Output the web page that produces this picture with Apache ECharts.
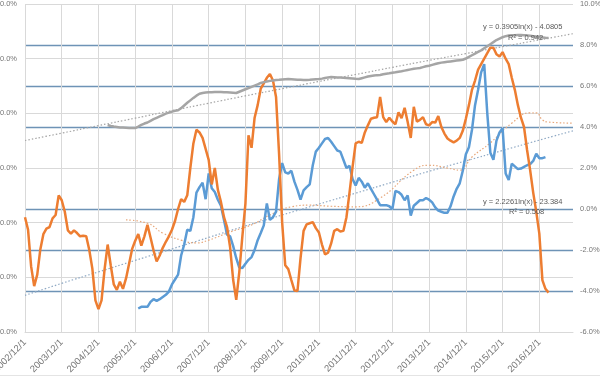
<!DOCTYPE html>
<html>
<head>
<meta charset="utf-8">
<script src="https://cdn.jsdelivr.net/npm/echarts@6/dist/echarts.min.js"></script>
<style>
html,body{margin:0;padding:0;background:#fff;}
#c{width:600px;height:383px;}
</style>
</head>
<body>
<div id="c"></div>
<script>
// ---- data ----
// monthly categories from 2002/12 to 2017/11
const startYear = 2002, startMonth = 12, monthCount = 180;
const categories = [];
for (let i = 0; i < monthCount; i++) {
  const m0 = startMonth - 1 + i;
  categories.push((startYear + Math.floor(m0 / 12)) + '/' + (m0 % 12 + 1) + '/1');
}
// left axis (%)
const leftTicks = {min: 0, max: 60, step: 10};
// right axis (%)
const rightTicks = {min: -6, max: 10, step: 2};

// orange series, left axis, starts at month 0
const orangeStart = 0;
const orangeValues = [
21.0, 18.7, 12.0, 8.4, 10.5, 15.1, 17.9, 18.9, 19.2, 20.8,
21.4, 25.0, 24.1, 22.0, 18.6, 18.0, 18.6, 18.1, 17.5, 17.6,
17.5, 15.0, 11.6, 5.8, 4.2, 5.8, 11.5, 16.0, 12.2, 8.7,
7.7, 9.2, 7.9, 9.8, 12.5, 15.2, 16.7, 17.9, 15.8, 17.5,
19.6, 17.3, 14.9, 12.9, 14.0, 15.4, 16.5, 17.5, 18.7, 20.3,
22.5, 24.3, 23.8, 25.0, 30.0, 34.5, 37.0, 36.5, 35.5, 33.5,
31.5, 27.0, 30.0, 26.0, 23.8, 21.0, 19.2, 15.5, 9.5, 5.9,
11.0, 17.5, 23.5, 36.0, 33.7, 39.2, 41.5, 44.5, 45.5, 46.5,
47.2, 46.0, 43.0, 32.5, 20.0, 12.2, 11.5, 9.5, 7.6, 7.5,
13.5, 18.5, 19.7, 19.9, 20.1, 19.0, 18.2, 16.0, 14.2, 14.5,
16.2, 18.5, 18.8, 18.4, 18.5, 21.0, 25.5, 30.2, 34.5, 34.8,
34.6, 36.5, 37.8, 39.0, 39.2, 39.3, 43.0, 39.3, 38.4, 39.2,
38.5, 38.0, 40.2, 39.1, 41.0, 38.4, 35.5, 41.2, 38.5, 38.8,
39.3, 38.0, 37.8, 38.4, 38.3, 39.5, 37.5, 36.3, 35.4, 35.0,
34.7, 35.0, 35.5, 36.8, 39.0, 41.5, 44.3, 46.0, 48.0, 49.0,
50.0, 51.0, 52.0, 52.0, 50.8, 50.4, 51.2, 50.0, 49.0, 46.5,
44.3, 41.5, 39.2, 37.5, 33.3, 29.6, 25.5, 22.0, 18.0, 9.5,
7.9, 7.2
];

// blue series, left axis, starts at month 37 (2006/1)
const blueStart = 37;
const blueValues = [
4.3, 4.6, 4.6, 4.6, 5.5, 6.0, 5.7, 6.0, 6.4, 6.8,
7.4, 8.7, 9.6, 10.5, 14.0, 16.0, 18.7, 18.5, 21.0, 25.5,
26.5, 27.3, 24.3, 29.0, 26.3, 25.6, 24.2, 23.1, 20.5, 17.8,
17.5, 15.7, 13.5, 11.8, 11.7, 12.5, 13.2, 13.7, 15.0, 16.8,
18.1, 19.5, 23.5, 20.5, 21.0, 22.0, 28.0, 30.9, 29.2, 29.0,
29.5, 27.5, 26.0, 24.2, 25.9, 26.5, 27.0, 30.5, 33.0, 33.7,
34.5, 35.3, 35.5, 34.8, 34.0, 33.2, 33.0, 31.5, 30.0, 30.4,
28.0, 26.8, 28.2, 27.5, 26.4, 27.2, 26.2, 25.2, 24.2, 23.2,
23.2, 23.2, 23.0, 22.5, 25.8, 25.6, 25.1, 24.1, 25.0, 21.3,
23.1, 23.6, 24.1, 24.1, 24.5, 24.2, 23.7, 22.8, 22.2, 22.0,
21.8, 21.8, 23.0, 24.8, 26.2, 27.2, 29.5, 32.5, 33.8, 37.0,
41.5, 44.3, 47.5, 49.0, 40.0, 32.8, 31.5, 35.0, 36.5, 37.3,
29.0, 27.8, 30.8, 30.3, 29.8, 29.9, 30.2, 30.5, 30.7, 31.3,
32.6, 31.8, 31.8, 32.0
];

// gray series, right axis, starts at month 27 (2005/3)
const grayStart = 27;
const grayValues = [
4.10, 4.05, 4.02, 4.00, 3.98, 3.97, 3.96, 3.95, 3.95, 3.95,
4.02, 4.10, 4.17, 4.22, 4.30, 4.38, 4.45, 4.52, 4.58, 4.65,
4.70, 4.75, 4.79, 4.82, 4.92, 5.05, 5.18, 5.30, 5.42, 5.53,
5.62, 5.66, 5.68, 5.69, 5.70, 5.71, 5.71, 5.71, 5.70, 5.69,
5.68, 5.67, 5.66, 5.72, 5.78, 5.84, 5.90, 5.96, 6.02, 6.08,
6.15, 6.19, 6.22, 6.25, 6.27, 6.29, 6.30, 6.32, 6.33, 6.34,
6.33, 6.32, 6.31, 6.30, 6.29, 6.29, 6.30, 6.32, 6.33, 6.34,
6.36, 6.39, 6.42, 6.44, 6.43, 6.42, 6.41, 6.40, 6.39, 6.38,
6.37, 6.35, 6.34, 6.38, 6.42, 6.46, 6.49, 6.51, 6.53, 6.54,
6.57, 6.60, 6.62, 6.65, 6.67, 6.70, 6.72, 6.75, 6.78, 6.81,
6.84, 6.86, 6.88, 6.92, 6.96, 6.99, 7.03, 7.07, 7.11, 7.14,
7.16, 7.18, 7.20, 7.22, 7.24, 7.26, 7.28, 7.34, 7.42, 7.50,
7.58, 7.66, 7.74, 7.84, 7.94, 8.04, 8.14, 8.24, 8.31, 8.38,
8.43, 8.46, 8.47, 8.48, 8.49, 8.49, 8.48, 8.47, 8.45, 8.43,
8.41, 8.39, 8.37, 8.35, 8.34
];

// trendline of gray (right axis), points read at month index
const grayTrendPoints = [[0,3.34],[12,3.70],[24,4.07],[36,4.43],[48,4.80],[60,5.16],[72,5.52],[84,5.87],[96,6.22],[108,6.56],[120,6.91],[132,7.25],[144,7.58],[156,7.92],[168,8.25],[179,8.55]];
// trendline of blue (left axis)
const blueTrendPoints = [[0,6.7],[12,8.9],[24,11.0],[36,13.1],[48,15.2],[60,17.3],[72,19.4],[84,21.4],[96,23.4],[108,25.4],[120,27.4],[132,29.4],[144,31.3],[156,33.2],[168,35.1],[179,36.8]];
// moving-average curve of orange (left axis)
const orangeAvgPoints = [[33,20.5],[40,19.9],[45,18.1],[51,16.8],[56,16.3],[60,16.8],[67,18.3],[74,19.6],[80,21.4],[87,22.9],[93,23.2],[100,23.0],[108,22.9],[116,24.5],[127,29.6],[132,30.5],[138,30.0],[142,29.6],[146,32.0],[152,34.6],[159,38.2],[165,40.1],[167,40.1],[169,38.8],[171,38.4],[179,38.2]];

const trendText1 = ['y = 0.3905ln(x) - 4.0805', 'R² = 0.942'];
const trendText2 = ['y = 2.2261ln(x) - 23.384', 'R² = 0.508'];

// ---- chart ----
const toPairs = (start, arr) => arr.map((v, k) => [start + k, v]);
const FONT = '"Liberation Sans", Arial, sans-serif';
const LBL = '#767676';
const LIGHT = '#d9d9d9';
const DARK = '#6e93b6';
const T = 'rgba(0,0,0,0)';

const chart = echarts.init(document.getElementById('c'), null, {renderer: 'canvas'});
chart.setOption({
  animation: false,
  backgroundColor: '#fff',
  grid: {left: 25, right: 27, top: 4, bottom: 51, containLabel: false, outerBoundsMode: 'none'},
  xAxis: {
    type: 'category', data: categories, boundaryGap: false,
    axisLine: {show: true, lineStyle: {color: LIGHT}},
    axisTick: {show: false},
    axisLabel: {
      interval: (i) => i % 12 === 0, rotate: 45, margin: 9,
      color: LBL, fontSize: 9.5, fontFamily: FONT
    },
    splitLine: {show: true, interval: (i) => i % 12 === 0, lineStyle: {color: LIGHT, width: 1}}
  },
  yAxis: [
    {
      type: 'value', min: leftTicks.min, max: leftTicks.max, interval: leftTicks.step,
      axisLine: {show: false}, axisTick: {show: false},
      axisLabel: {margin: 8, color: LBL, fontSize: 7.5, fontFamily: FONT, formatter: (v) => v.toFixed(1) + '%'},
      splitLine: {show: true, lineStyle: {color: LIGHT, width: 1}}
    },
    {
      type: 'value', min: rightTicks.min, max: rightTicks.max, interval: rightTicks.step, position: 'right',
      axisLine: {show: false}, axisTick: {show: false},
      axisLabel: {margin: 7, color: LBL, fontSize: 7.5, fontFamily: FONT, formatter: (v) => v.toFixed(1) + '%'},
      splitLine: {show: true, lineStyle: {color: [T, DARK, DARK, DARK, T, DARK, DARK, DARK, T], width: 1.3}}
    }
  ],
  series: [
    {type: 'line', yAxisIndex: 1, data: grayTrendPoints, showSymbol: false, smooth: true, z: 3,
     lineStyle: {color: '#a5a5a5', width: 1.2, type: [1.5, 2]}},
    {type: 'line', yAxisIndex: 0, data: blueTrendPoints, showSymbol: false, smooth: true, z: 3,
     lineStyle: {color: '#8fa9c4', width: 1.2, type: [1.5, 2]}},
    {type: 'line', yAxisIndex: 0, data: orangeAvgPoints, showSymbol: false, smooth: true, z: 3,
     lineStyle: {color: '#e7a77a', width: 1.2, type: [1.5, 2]}},
    {type: 'line', yAxisIndex: 0, data: toPairs(blueStart, blueValues), showSymbol: false, z: 4,
     lineStyle: {color: '#5b9bd5', width: 2.5}},
    {type: 'line', yAxisIndex: 0, data: toPairs(orangeStart, orangeValues), showSymbol: false, z: 5,
     lineStyle: {color: '#ed7d31', width: 2.5}},
    {type: 'line', yAxisIndex: 1, data: toPairs(grayStart, grayValues), showSymbol: false, z: 6,
     lineStyle: {color: '#a5a5a5', width: 2.5}}
  ],
  graphic: [
    {type: 'text', left: 483, top: 23, z: 10, style: {text: trendText1[0], fill: '#595959', font: '7.5px ' + FONT}},
    {type: 'text', left: 508, top: 34, z: 10, style: {text: trendText1[1], fill: '#595959', font: '7.5px ' + FONT}},
    {type: 'text', left: 483, top: 198, z: 10, style: {text: trendText2[0], fill: '#595959', font: '7.5px ' + FONT}},
    {type: 'text', left: 509, top: 208, z: 10, style: {text: trendText2[1], fill: '#595959', font: '7.5px ' + FONT}},
    {type: 'line', z: 0, shape: {x1: 0, y1: 375.5, x2: 600, y2: 375.5}, style: {stroke: '#e4e4e4', lineWidth: 1}}
  ]
});
</script>
</body>
</html>
